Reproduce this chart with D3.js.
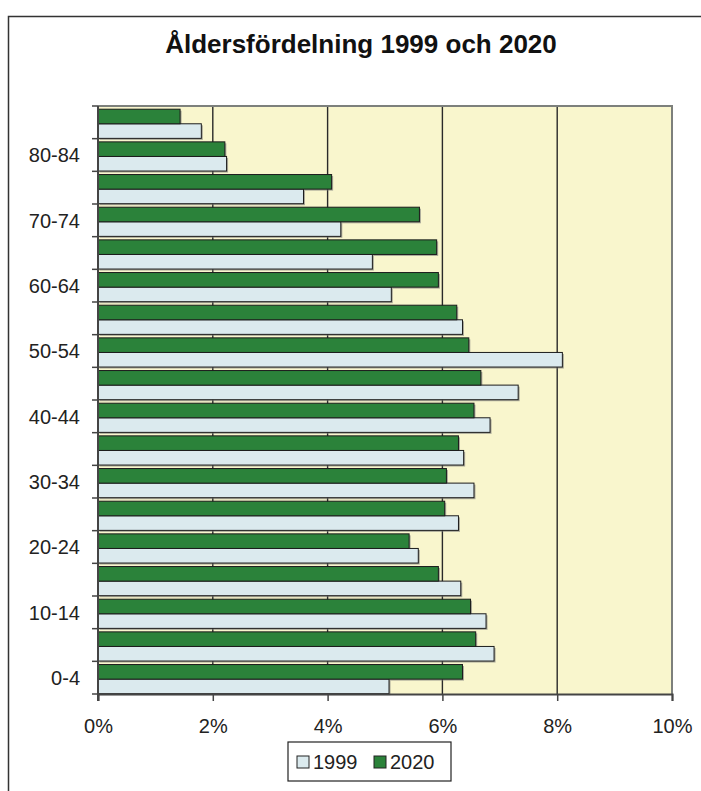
<!DOCTYPE html>
<html lang="sv">
<head>
    <meta charset="UTF-8">
    <script src="https://d3js.org/d3.v7.min.js"></script>
    <title>Åldersfördelning</title>
    <style>
      body{ margin:0; background:#fff; }
      svg{ display:block; font-family:"Liberation Sans", Arial, sans-serif; }
      #myGraph .bar{ stroke:#1c1c1c; stroke-width:1px; }
    </style>
</head>
<body>
    <svg id="myGraph" width="701" height="791"></svg>
</body>
<script>
// age groups, bottom to top
var ageGroups = ["0-4","5-9","10-14","15-19","20-24","25-29","30-34","35-39","40-44",
                 "45-49","50-54","55-59","60-64","65-69","70-74","75-79","80-84","85-"];
var values1999 = [5.07,6.90,6.76,6.32,5.58,6.28,6.55,6.37,6.83,7.32,8.09,6.35,5.11,4.78,4.23,3.58,2.24,1.80];
var values2020 = [6.35,6.58,6.49,5.93,5.42,6.04,6.07,6.28,6.55,6.67,6.46,6.25,5.93,5.90,5.60,4.07,2.21,1.43];
var seriesNames = ["1999","2020"];
var seriesColors = ["#dbeaee","#2b823a"];
var xTicks = [0,2,4,6,8,10];
var shownLabels = ["0-4","10-14","20-24","30-34","40-44","50-54","60-64","70-74","80-84"];

var svg = d3.select("#myGraph");

// outer frame
svg.append("rect")
.attr("x",8.5).attr("y",16.5)
.attr("width",760).attr("height",820)
.attr("fill","none")
.attr("stroke","#333")
.attr("stroke-width",1.5)

svg.append("text")
.attr("x",361).attr("y",53)
.attr("text-anchor","middle")
.attr("font-size","26px")
.attr("font-weight","bold")
.attr("fill","#111")
.text("Åldersfördelning 1999 och 2020")

var pLeft = 98, pRight = 672, pTop = 106, pBottom = 694;

var xScale = d3.scaleLinear().domain([0,10]).range([pLeft,pRight]);
var yScale = d3.scaleBand().domain(ageGroups.slice().reverse()).range([pTop,pBottom]);
var b = yScale.bandwidth();
// 2020 bar drawn above 1999 inside each band
var subScale = d3.scaleBand().domain(["2020","1999"]).range([3.2,b-0.3]);

// plot background
svg.append("rect")
.attr("x",pLeft).attr("y",pTop)
.attr("width",pRight-pLeft).attr("height",pBottom-pTop)
.attr("fill","#f9f6cd")

// grid lines
svg.append("g")
.selectAll("line")
.data(xTicks.slice(1,-1))
.enter()
.append("line")
.attr("x1",function(d){ return xScale(d); })
.attr("x2",function(d){ return xScale(d); })
.attr("y1",pTop).attr("y2",pBottom)
.attr("stroke","#2a2a2a")
.attr("stroke-width",1.4)

// border top/right
svg.append("path")
.attr("d","M"+pLeft+","+pTop+"H"+pRight+"V"+pBottom)
.attr("fill","none")
.attr("stroke","#7d807c")
.attr("stroke-width",2)

var rows = [];
ageGroups.forEach(function(g,i){
    rows.push({group:g, series:"1999", value:values1999[i], color:seriesColors[0]});
    rows.push({group:g, series:"2020", value:values2020[i], color:seriesColors[1]});
});

function barY(d){ return yScale(d.group) + subScale(d.series); }

// shadows
svg.append("g")
.selectAll("rect")
.data(rows)
.enter()
.append("rect")
.attr("x",pLeft+1.5)
.attr("y",function(d){ return barY(d)+1.5; })
.attr("width",function(d){ return xScale(d.value)-pLeft; })
.attr("height",subScale.bandwidth())
.attr("fill","#777")
.attr("opacity",0.6)

svg.append("g")
.selectAll("rect")
.data(rows)
.enter()
.append("rect")
.attr("class","bar")
.attr("x",pLeft)
.attr("y",barY)
.attr("width",function(d){ return xScale(d.value)-pLeft; })
.attr("height",subScale.bandwidth())
.attr("fill",function(d){ return d.color; })

// y axis
var yAxis = svg.append("g").attr("transform","translate("+pLeft+",0)");
yAxis.append("line")
.attr("x1",0).attr("x2",0).attr("y1",pTop).attr("y2",pBottom+7)
.attr("stroke","#444").attr("stroke-width",2)
yAxis.selectAll(".tk")
.data(d3.range(ageGroups.length+1))
.enter()
.append("line")
.attr("x1",-6).attr("x2",0)
.attr("y1",function(i){ return pTop + i*b; })
.attr("y2",function(i){ return pTop + i*b; })
.attr("stroke","#444").attr("stroke-width",1.5)
yAxis.selectAll("text")
.data(shownLabels)
.enter()
.append("text")
.attr("x",-18)
.attr("y",function(d){ return yScale(d)+b/2; })
.attr("dy","0.36em")
.attr("text-anchor","end")
.attr("font-size","20px")
.attr("fill","#222")
.text(function(d){ return d; })

// x axis
var xAxis = svg.append("g").attr("transform","translate(0,"+pBottom+")")
.call(d3.axisBottom(xScale).tickValues(xTicks).tickSize(7).tickPadding(18)
      .tickFormat(function(d){ return d+"%"; }))
xAxis.select(".domain").attr("stroke","#444").attr("stroke-width",2)
xAxis.selectAll(".tick line").attr("stroke","#444").attr("stroke-width",1.5)
xAxis.selectAll("text")
.attr("font-size","20px")
.attr("font-family","Liberation Sans, Arial, sans-serif")
.attr("fill","#222")

// legend
var lg = svg.append("g").attr("transform","translate(288,742)");
lg.append("rect")
.attr("width",163).attr("height",39)
.attr("fill","#fff").attr("stroke","#222").attr("stroke-width",1.2)
var items = lg.selectAll(".item")
.data(seriesNames)
.enter()
.append("g")
.attr("transform",function(d,i){ return "translate("+(9+i*77)+",0)"; })
items.append("rect")
.attr("y",14).attr("width",12).attr("height",12)
.attr("fill",function(d,i){ return seriesColors[i]; })
.attr("stroke","#222")
items.append("text")
.attr("x",16).attr("y",20)
.attr("dy","0.36em")
.attr("font-size","20px")
.attr("fill","#222")
.text(function(d){ return d; })
</script>
</html>
